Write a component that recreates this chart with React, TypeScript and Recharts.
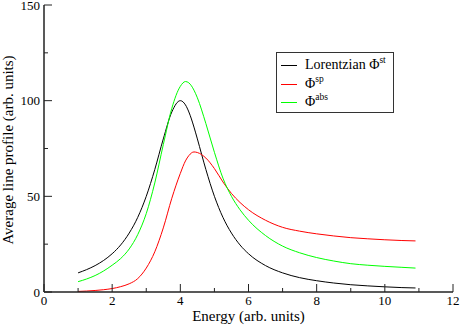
import React from 'react';
import { LineChart, Line, XAxis, YAxis, Legend } from 'recharts';

// energy grid (arb. units)
const energy = [1, 1.25, 1.5, 1.75, 2, 2.25, 2.5, 2.75, 3, 3.25, 3.5, 3.75, 4, 4.15, 4.25, 4.4, 4.5, 4.75, 5, 5.25, 5.5, 5.75, 6, 6.5, 7, 7.5, 8, 8.5, 9, 9.5, 10, 10.5, 10.9];

const lorentzian = [10, 11.7, 13.8, 16.5, 20, 24.6, 30.8, 39, 50, 64, 80, 94.1, 100, 97.8, 94.1, 86.2, 80, 64, 50, 39, 30.8, 24.6, 20, 13.8, 10, 7.5, 5.9, 4.7, 3.8, 3.2, 2.7, 2.3, 2.1];
const spontaneous = [0.3, 0.5, 0.8, 1.2, 1.8, 2.8, 4.3, 7, 12.5, 21, 33.5, 49, 62, 68.5, 71.3, 73.2, 72.9, 70, 64.5, 57.5, 51.5, 46.8, 43, 37.5, 33.8, 31.8, 30.4, 29.3, 28.4, 27.8, 27.3, 26.9, 26.7];
const absorption = [5.4, 6.8, 8.6, 11, 14, 17.5, 22.5, 30, 41, 57, 77, 96, 107.5, 110, 109.3, 105.5, 101.5, 88, 73, 59.5, 50, 43, 37.5, 29.5, 24, 20.5, 18, 16.2, 14.8, 14, 13.4, 12.9, 12.5];

const xTicks = [0, 1, 2, 3, 4, 5, 6, 7, 8, 9, 10, 11, 12];
const yTicks = [0, 25, 50, 75, 100, 125, 150];

const seriesNames = ['Lorentzian \u03A6', '\u03A6', '\u03A6'];
const seriesSups = ['st', 'sp', 'abs'];
const seriesColors = ['#000000', '#ff0000', '#00ff00'];

const data = energy.map((e, i) => ({
    energy: e,
    lorentz: lorentzian[i],
    sp: spontaneous[i],
    abs: absorption[i],
}));

const FONT = '"Liberation Serif", "Times New Roman", serif';
const AXIS = '#222';

const BottomTick = (props: any) => {
    const { x, y, payload } = props;
    const major = payload.value % 2 === 0;
    return (
        <g>
            <line x1={x} x2={x} y1={y} y2={y - (major ? 8 : 4)} stroke={AXIS} strokeWidth={1} />
            {major && (
                <text x={x} y={y + 13} textAnchor="middle" fontSize={13} fontFamily={FONT} fill="#000">
                    {payload.value}
                </text>
            )}
        </g>
    );
};

const TopTick = (props: any) => {
    const { x, y, payload } = props;
    const major = payload.value % 2 === 0;
    return <line x1={x} x2={x} y1={y} y2={y + (major ? 8 : 4)} stroke={AXIS} strokeWidth={1} />;
};

const LeftTick = (props: any) => {
    const { x, y, payload } = props;
    const major = payload.value % 50 === 0;
    return (
        <g>
            <line x1={x} x2={x + (major ? 8 : 4)} y1={y} y2={y} stroke={AXIS} strokeWidth={1} />
            {major && (
                <text x={x - 4} y={y + 4.5} textAnchor="end" fontSize={13} fontFamily={FONT} fill="#000">
                    {payload.value}
                </text>
            )}
        </g>
    );
};

const RightTick = (props: any) => {
    const { x, y, payload } = props;
    const major = payload.value % 50 === 0;
    return <line x1={x} x2={x - (major ? 8 : 4)} y1={y} y2={y} stroke={AXIS} strokeWidth={1} />;
};

const LegendBox = () => (
    <div style={{
        width: 118,
        height: 61,
        border: '1px solid #333',
        background: '#fff',
        boxSizing: 'border-box',
        paddingTop: 3.5,
        fontFamily: FONT,
        fontSize: 14,
        color: '#000',
    }}>
        {seriesNames.map((name, i) => (
            <div key={i} style={{ display: 'flex', alignItems: 'center', height: 18.5, paddingLeft: 4 }}>
                <div style={{ width: 16, height: 1, background: seriesColors[i], marginRight: 8 }} />
                <span style={{ whiteSpace: 'nowrap', lineHeight: '14px' }}>
                    {name}
                    <span style={{ fontSize: 9.5, position: 'relative', top: -6 }}>{seriesSups[i]}</span>
                </span>
            </div>
        ))}
    </div>
);

const App: React.FC = () => {
    return (
        <div style={{ position: 'absolute', left: 0, top: 0, width: 461, height: 325, background: '#fff' }}>
            <LineChart width={461} height={325} data={data} margin={{ top: 5, right: 8, bottom: 0, left: 0 }}>
                <XAxis
                    dataKey="energy"
                    type="number"
                    domain={[0, 12]}
                    ticks={xTicks}
                    interval={0}
                    height={33}
                    tickSize={0}
                    tickMargin={0}
                    tickLine={false}
                    tick={<BottomTick />}
                    axisLine={{ stroke: AXIS, strokeWidth: 1.5 }}
                    label={{
                        content: () => (
                            <text x={248.5} y={321} textAnchor="middle" fontSize={15} fontFamily={FONT} fill="#000">
                                Energy (arb. units)
                            </text>
                        ),
                    }}
                />
                <XAxis
                    xAxisId="top"
                    orientation="top"
                    type="number"
                    domain={[0, 12]}
                    ticks={xTicks}
                    interval={0}
                    height={0}
                    tickSize={0}
                    tickMargin={0}
                    tickLine={false}
                    tick={<TopTick />}
                    axisLine={{ stroke: AXIS, strokeWidth: 1.5 }}
                />
                <YAxis
                    type="number"
                    domain={[0, 150]}
                    ticks={yTicks}
                    interval={0}
                    width={44}
                    tickSize={0}
                    tickMargin={0}
                    tickLine={false}
                    tick={<LeftTick />}
                    axisLine={{ stroke: AXIS, strokeWidth: 1.5 }}
                    label={{
                        content: () => (
                            <text x={12.5} y={150} transform="rotate(-90 12.5 150)" textAnchor="middle" fontSize={15} fontFamily={FONT} fill="#000">
                                Average line profile (arb. units)
                            </text>
                        ),
                    }}
                />
                <YAxis
                    yAxisId="right"
                    orientation="right"
                    type="number"
                    domain={[0, 150]}
                    ticks={yTicks}
                    interval={0}
                    width={0}
                    tickSize={0}
                    tickMargin={0}
                    tickLine={false}
                    tick={<RightTick />}
                    axisLine={{ stroke: AXIS, strokeWidth: 1.5 }}
                />
                <Legend
                    layout="vertical"
                    align="center"
                    verticalAlign="middle"
                    content={<LegendBox />}
                    wrapperStyle={{ position: 'absolute', left: 276, top: 52, width: 118, height: 61 }}
                />
                <Line type="monotone" dataKey="lorentz" name="Lorentzian" stroke={seriesColors[0]} strokeWidth={1} dot={false} isAnimationActive={false} />
                <Line type="monotone" dataKey="sp" name="sp" stroke={seriesColors[1]} strokeWidth={1} dot={false} isAnimationActive={false} />
                <Line type="monotone" dataKey="abs" name="abs" stroke={seriesColors[2]} strokeWidth={1} dot={false} isAnimationActive={false} />
            </LineChart>
        </div>
    );
};

export default App;
